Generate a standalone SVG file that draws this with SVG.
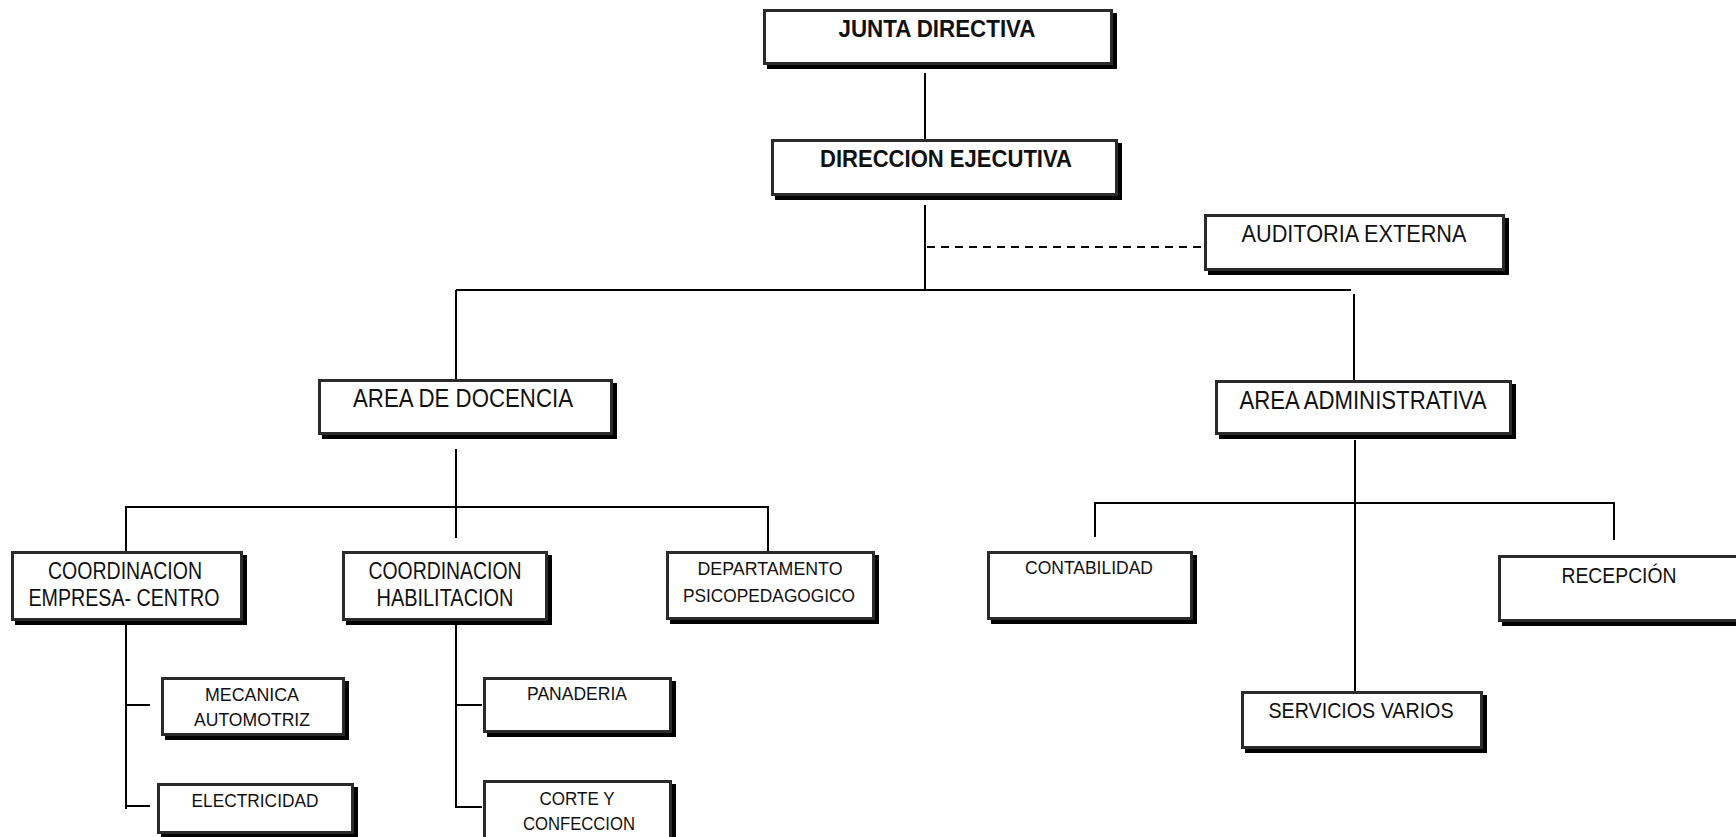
<svg xmlns="http://www.w3.org/2000/svg" width="1736" height="837" viewBox="0 0 1736 837">
<style>
.sh{fill:#000}
.bx{fill:#fff;stroke:#2b2b2b;stroke-width:3}
.t{font-family:"Liberation Sans",Arial,sans-serif;fill:#111;text-anchor:middle}
.b{font-weight:bold}
.ln{stroke:#000;stroke-width:2;fill:none}
.ds{stroke:#000;stroke-width:2;fill:none;stroke-dasharray:8 6}
</style>
<rect width="1736" height="837" fill="#fff"/>
<g id="connectors">
<line class="ln" x1="925" y1="73" x2="925" y2="139"/>
<line class="ln" x1="925" y1="205" x2="925" y2="291"/>
<line class="ds" x1="927" y1="247" x2="1201" y2="247"/>
<line class="ln" x1="456" y1="290" x2="1351" y2="290"/>
<line class="ln" x1="456" y1="290" x2="456" y2="379"/>
<line class="ln" x1="1354" y1="294" x2="1354" y2="380"/>
<line class="ln" x1="456" y1="449" x2="456" y2="538"/>
<line class="ln" x1="126" y1="507" x2="768" y2="507"/>
<line class="ln" x1="126" y1="506" x2="126" y2="551"/>
<line class="ln" x1="768" y1="506" x2="768" y2="551"/>
<line class="ln" x1="126" y1="622" x2="126" y2="809"/>
<line class="ln" x1="126" y1="705" x2="150" y2="705"/>
<line class="ln" x1="126" y1="806" x2="150" y2="806"/>
<line class="ln" x1="456" y1="622" x2="456" y2="808"/>
<line class="ln" x1="456" y1="705" x2="482" y2="705"/>
<line class="ln" x1="456" y1="807" x2="482" y2="807"/>
<line class="ln" x1="1355" y1="440" x2="1355" y2="691"/>
<line class="ln" x1="1095" y1="503" x2="1614" y2="503"/>
<line class="ln" x1="1095" y1="502" x2="1095" y2="537"/>
<line class="ln" x1="1614" y1="502" x2="1614" y2="540"/>
</g>
<g id="junta">
<rect class="sh" x="767" y="13" width="350" height="56"/>
<rect class="bx" x="764.5" y="10.5" width="347" height="53"/>
<text class="t b" x="937" y="37" font-size="24" textLength="197" lengthAdjust="spacingAndGlyphs">JUNTA DIRECTIVA</text>
</g>
<g id="direccion">
<rect class="sh" x="775" y="143" width="347" height="57"/>
<rect class="bx" x="772.5" y="140.5" width="344" height="54"/>
<text class="t b" x="946" y="167" font-size="24" textLength="252" lengthAdjust="spacingAndGlyphs">DIRECCION EJECUTIVA</text>
</g>
<g id="auditoria">
<rect class="sh" x="1208" y="218" width="301" height="57"/>
<rect class="bx" x="1205.5" y="215.5" width="298" height="54"/>
<text class="t" x="1354" y="242" font-size="24" textLength="225" lengthAdjust="spacingAndGlyphs">AUDITORIA EXTERNA</text>
</g>
<g id="area-docencia">
<rect class="sh" x="322" y="383" width="295" height="56"/>
<rect class="bx" x="319.5" y="380.5" width="292" height="53"/>
<text class="t" x="463" y="407" font-size="25" textLength="220" lengthAdjust="spacingAndGlyphs">AREA DE DOCENCIA</text>
</g>
<g id="area-administrativa">
<rect class="sh" x="1219" y="384" width="297" height="55"/>
<rect class="bx" x="1216.5" y="381.5" width="294" height="52"/>
<text class="t" x="1363" y="409" font-size="25" textLength="247" lengthAdjust="spacingAndGlyphs">AREA ADMINISTRATIVA</text>
</g>
<g id="coord-empresa">
<rect class="sh" x="15" y="555" width="232" height="70"/>
<rect class="bx" x="12.5" y="552.5" width="229" height="67"/>
<text class="t" x="125" y="579" font-size="24" textLength="154" lengthAdjust="spacingAndGlyphs">COORDINACION</text>
<text class="t" x="124" y="606" font-size="24" textLength="191" lengthAdjust="spacingAndGlyphs">EMPRESA- CENTRO</text>
</g>
<g id="coord-habilitacion">
<rect class="sh" x="346" y="555" width="206" height="70"/>
<rect class="bx" x="343.5" y="552.5" width="203" height="67"/>
<text class="t" x="445" y="579" font-size="24" textLength="153" lengthAdjust="spacingAndGlyphs">COORDINACION</text>
<text class="t" x="445" y="606" font-size="24" textLength="137" lengthAdjust="spacingAndGlyphs">HABILITACION</text>
</g>
<g id="departamento">
<rect class="sh" x="670" y="555" width="209" height="69"/>
<rect class="bx" x="667.5" y="552.5" width="206" height="66"/>
<text class="t" x="770" y="575" font-size="18" textLength="145" lengthAdjust="spacingAndGlyphs">DEPARTAMENTO</text>
<text class="t" x="769" y="602" font-size="18" textLength="172" lengthAdjust="spacingAndGlyphs">PSICOPEDAGOGICO</text>
</g>
<g id="contabilidad">
<rect class="sh" x="991" y="555" width="206" height="69"/>
<rect class="bx" x="988.5" y="552.5" width="203" height="66"/>
<text class="t" x="1089" y="574" font-size="18" textLength="128" lengthAdjust="spacingAndGlyphs">CONTABILIDAD</text>
</g>
<g id="recepcion">
<rect class="sh" x="1502" y="559" width="248" height="67"/>
<rect class="bx" x="1499.5" y="556.5" width="245" height="64"/>
<text class="t" x="1619" y="583" font-size="22" textLength="115" lengthAdjust="spacingAndGlyphs">RECEPCIÓN</text>
</g>
<g id="servicios-varios">
<rect class="sh" x="1245" y="695" width="242" height="58"/>
<rect class="bx" x="1242.5" y="692.5" width="239" height="55"/>
<text class="t" x="1361" y="718" font-size="22" textLength="185" lengthAdjust="spacingAndGlyphs">SERVICIOS VARIOS</text>
</g>
<g id="mecanica">
<rect class="sh" x="165" y="681" width="184" height="59"/>
<rect class="bx" x="162.5" y="678.5" width="181" height="56"/>
<text class="t" x="252" y="701" font-size="19" textLength="94" lengthAdjust="spacingAndGlyphs">MECANICA</text>
<text class="t" x="252" y="726" font-size="19" textLength="116" lengthAdjust="spacingAndGlyphs">AUTOMOTRIZ</text>
</g>
<g id="electricidad">
<rect class="sh" x="161" y="787" width="197" height="51"/>
<rect class="bx" x="158.5" y="784.5" width="194" height="48"/>
<text class="t" x="255" y="807" font-size="19" textLength="127" lengthAdjust="spacingAndGlyphs">ELECTRICIDAD</text>
</g>
<g id="panaderia">
<rect class="sh" x="487" y="681" width="189" height="56"/>
<rect class="bx" x="484.5" y="678.5" width="186" height="53"/>
<text class="t" x="577" y="700" font-size="19" textLength="100" lengthAdjust="spacingAndGlyphs">PANADERIA</text>
</g>
<g id="corte-confeccion">
<rect class="sh" x="487" y="784" width="189" height="63"/>
<rect class="bx" x="484.5" y="781.5" width="186" height="60"/>
<text class="t" x="577" y="805" font-size="19" textLength="75" lengthAdjust="spacingAndGlyphs">CORTE Y</text>
<text class="t" x="579" y="830" font-size="19" textLength="112" lengthAdjust="spacingAndGlyphs">CONFECCION</text>
</g>
</svg>
